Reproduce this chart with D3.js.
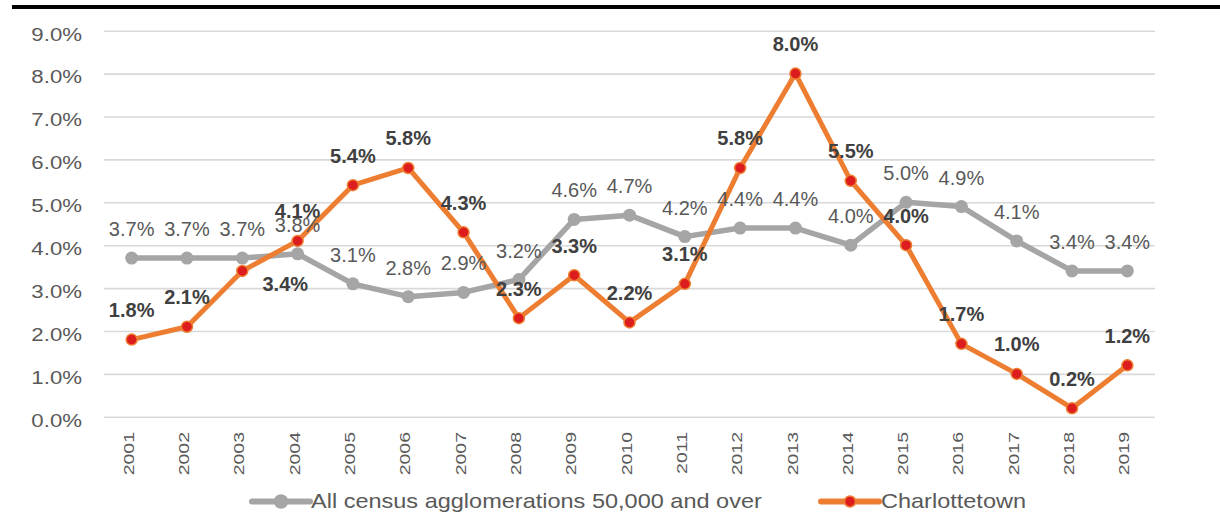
<!DOCTYPE html>
<html>
<head>
<meta charset="utf-8">
<script src="https://cdn.jsdelivr.net/npm/d3@7"></script>
<style>
  html, body { margin: 0; padding: 0; background: #ffffff; }
  svg { display: block; font-family: "Liberation Sans", Arial, sans-serif; }
</style>
</head>
<body>
<svg id="chart" width="1220" height="525"></svg>
<script>
const years = ["2001","2002","2003","2004","2005","2006","2007","2008","2009","2010",
               "2011","2012","2013","2014","2015","2016","2017","2018","2019"];
const allCA = [3.7,3.7,3.7,3.8,3.1,2.8,2.9,3.2,4.6,4.7,4.2,4.4,4.4,4.0,5.0,4.9,4.1,3.4,3.4];
const charlottetown = [1.8,2.1,3.4,4.1,5.4,5.8,4.3,2.3,3.3,2.2,3.1,5.8,8.0,5.5,4.0,1.7,1.0,0.2,1.2];
const yTickValues = [0,1,2,3,4,5,6,7,8,9];
const seriesNames = ["All census agglomerations 50,000 and over", "Charlottetown"];

const GRAY = "#A5A5A5", ORANGE = "#ED7D31", RED = "#DD1C1D";
const svg = d3.select("#chart");

const x = d3.scalePoint().domain(years).range([104, 1155]).padding(0.5);
const y = d3.scaleLinear().domain([0, 9]).range([416.8, 30.7]);

// top rule
svg.append("line").attr("x1", 12).attr("x2", 1220).attr("y1", 7).attr("y2", 7)
  .attr("stroke", "#000").attr("stroke-width", 4);

// y axis with gridlines
const yAxis = svg.append("g").attr("transform", "translate(104,0)")
  .call(d3.axisLeft(y).tickValues(yTickValues).tickSize(-(1155 - 104))
        .tickFormat(d => d.toFixed(1) + "%"));
yAxis.select(".domain").remove();
yAxis.selectAll(".tick line").attr("stroke", "#D9D9D9").attr("stroke-width", 1.6);
yAxis.selectAll(".tick text")
  .attr("x", 0).attr("dy", null).attr("y", 9.3)
  .attr("transform", "translate(-22,0) scale(1.17,1)")
  .attr("text-anchor", "end")
  .attr("fill", "#595959").attr("font-size", 19)
  .attr("font-family", "Liberation Sans, Arial, sans-serif");

// x axis labels (rotated)
const xAxis = svg.append("g").attr("transform", "translate(0,416.8)")
  .call(d3.axisBottom(x).tickSize(0));
xAxis.select(".domain").remove();
xAxis.selectAll(".tick text")
  .attr("x", 0).attr("y", 0).attr("dy", null)
  .attr("transform", "translate(1.6,15.2) rotate(-90) scale(1.3,1)")
  .attr("text-anchor", "end")
  .attr("fill", "#595959").attr("font-size", 15)
  .attr("font-family", "Liberation Sans, Arial, sans-serif");

const line = d3.line().x((d, i) => x(years[i])).y(d => y(d));

// gray series
svg.append("path").datum(allCA).attr("d", line)
  .attr("fill", "none").attr("stroke", GRAY).attr("stroke-width", 5.5)
  .attr("stroke-linejoin", "round").attr("stroke-linecap", "round");
svg.append("g").selectAll("circle").data(allCA).join("circle")
  .attr("cx", (d, i) => x(years[i])).attr("cy", d => y(d)).attr("r", 6.5)
  .attr("fill", GRAY);

// orange series
svg.append("path").datum(charlottetown).attr("d", line)
  .attr("fill", "none").attr("stroke", ORANGE).attr("stroke-width", 5)
  .attr("stroke-linejoin", "round").attr("stroke-linecap", "round");
svg.append("g").selectAll("circle").data(charlottetown).join("circle")
  .attr("cx", (d, i) => x(years[i])).attr("cy", d => y(d)).attr("r", 5.5)
  .attr("fill", RED).attr("stroke", ORANGE).attr("stroke-width", 1.5);

// labels
svg.append("g").selectAll("text").data(allCA).join("text")
  .attr("x", (d, i) => x(years[i])).attr("y", d => y(d) - 22)
  .attr("text-anchor", "middle").attr("font-size", 20).attr("fill", "#595959")
  .text(d => d.toFixed(1) + "%");
svg.append("g").selectAll("text").data(charlottetown).join("text")
  .attr("x", (d, i) => x(years[i]) + (i === 2 ? 43 : 0))
  .attr("y", (d, i) => y(d) + (i === 2 ? 20 : -22.5))
  .attr("text-anchor", "middle").attr("font-size", 20).attr("font-weight", "bold")
  .attr("fill", "#404040")
  .text(d => d.toFixed(1) + "%");

// legend
const legend = svg.append("g");
const lg = [
  {name: seriesNames[0], x0: 252, x1: 310, tx: 311, color: GRAY, fill: GRAY, r: 6.5, w: 6},
  {name: seriesNames[1], x0: 821, x1: 879, tx: 881, color: ORANGE, fill: RED, r: 5.5, w: 6}
];
lg.forEach(l => {
  legend.append("line").attr("x1", l.x0).attr("x2", l.x1).attr("y1", 501.5).attr("y2", 501.5)
    .attr("stroke", l.color).attr("stroke-width", l.w).attr("stroke-linecap", "round");
  legend.append("circle").attr("cx", (l.x0 + l.x1) / 2).attr("cy", 501.5).attr("r", l.r)
    .attr("fill", l.fill).attr("stroke", l.color).attr("stroke-width", 1.5);
  legend.append("text").attr("transform", `translate(${l.tx},507.5) scale(1.12,1)`)
    .attr("font-size", 21).attr("fill", "#595959").text(l.name);
});
</script>
</body>
</html>
